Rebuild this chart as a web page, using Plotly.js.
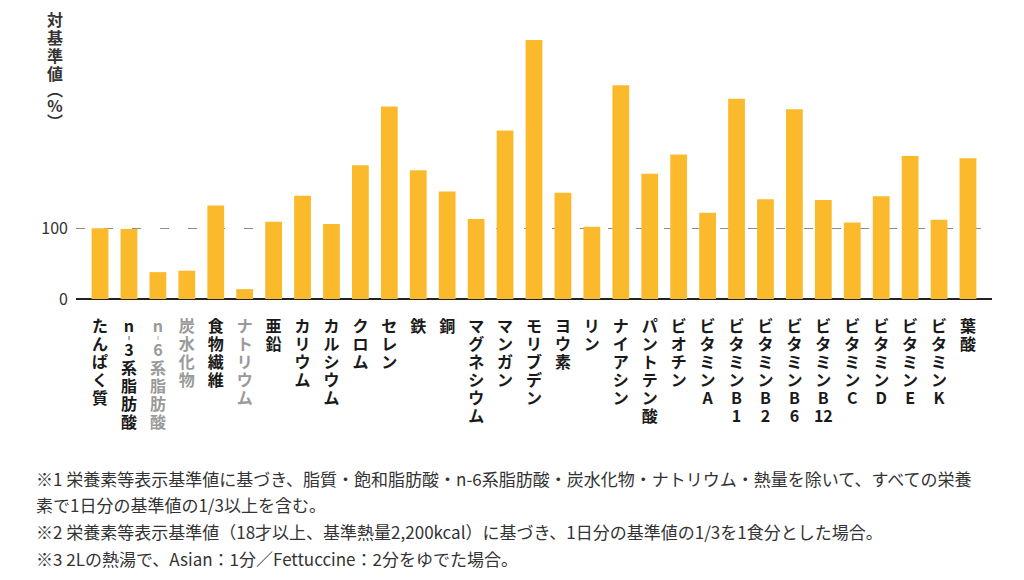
<!DOCTYPE html>
<html>
<head>
<meta charset="utf-8">
<script src="https://cdn.plot.ly/plotly-3.0.1.min.js"></script>
<style>
html,body{margin:0;padding:0;background:#fff;}
#chart{width:1024px;height:580px;}
</style>
</head>
<body>
<div id="chart"></div>
<script>
// ---- data ----
const categories = ["たんぱく質","n-3系脂肪酸","n-6系脂肪酸","炭水化物","食物繊維","ナトリウム","亜鉛","カリウム","カルシウム","クロム","セレン","鉄","銅","マグネシウム","マンガン","モリブデン","ヨウ素","リン","ナイアシン","パントテン酸","ビオチン","ビタミンA","ビタミンB1","ビタミンB2","ビタミンB6","ビタミンB12","ビタミンC","ビタミンD","ビタミンE","ビタミンK","葉酸"];
const values = [100, 99, 38, 40, 132, 14, 109, 146, 106, 189, 272, 182, 152, 113, 238, 366, 150, 102, 302, 177, 204, 122, 283, 141, 268, 140, 108, 145, 202, 112, 199];
const dimmed = ["n-6系脂肪酸","炭水化物","ナトリウム"];
const yTickVals = [0, 100];
const yTitle = "対基準値︵%︶";
const footnotes = [
  "※1 栄養素等表示基準値に基づき、脂質・飽和脂肪酸・n-6系脂肪酸・炭水化物・ナトリウム・熱量を除いて、すべての栄養",
  "素で1日分の基準値の1/3以上を含む。",
  "※2 栄養素等表示基準値（18才以上、基準熱量2,200kcal）に基づき、1日分の基準値の1/3を1食分とした場合。",
  "※3 2Lの熱湯で、Asian：1分／Fettuccine：2分をゆでた場合。"
];

// ---- helpers ----
function vertical(s){
  const parts = [];
  const chars = Array.from(s);
  for (let i=0;i<chars.length;i++){
    const c = chars[i];
    if (/[0-9]/.test(c) && i>0 && /[0-9]/.test(chars[i-1])) {
      parts[parts.length-1] += c;
    } else if (c === "-") {
      parts.push("︲");
    } else {
      parts.push(c);
    }
  }
  return parts.join("<br>");
}
const tickText = categories.map(c => {
  const t = vertical(c);
  return dimmed.includes(c) ? '<span style="color:#9a9a9a">'+t+'</span>' : t;
});

// pixel helpers for layout
const W = 1024, H = 580;
const mL = 76, mR = 32, mT = 30, mB = 281;
const plotW = W - mL - mR, plotH = H - mT - mB;
const px = x => (x - mL) / plotW;
const py = y => (H - mB - y) / plotH;

const FONT = '"Noto Sans CJK JP", "Noto Sans", sans-serif';
const TICK_SIZE = 16;
const TITLE_SIZE = 16;
const ROW = 18;

const trace = {
  type: 'bar',
  x: categories,
  y: values,
  marker: {color: '#FBBA2C'},
  hoverinfo: 'x+y'
};

const annotations = [];
annotations.push({
  xref:'paper', yref:'paper', x: px(55), y: py(5), xanchor:'center', yanchor:'top',
  text: '<b>' + vertical(yTitle) + '</b>', showarrow:false, align:'center',
  font:{family:FONT, size:TITLE_SIZE, color:'#333'}
});
const fnY = [478, 504, 531, 558];
footnotes.forEach((t,i) => {
  annotations.push({
    xref:'paper', yref:'paper', x: px(34), y: py(fnY[i]), xanchor:'left', yanchor:'middle',
    text: t, showarrow:false, align:'left',
    font:{family:FONT, size:17, color:'#333'}
  });
});

const layout = {
  width: W, height: H,
  margin: {l:mL, r:mR, t:mT, b:mB, pad:0},
  paper_bgcolor:'#fff', plot_bgcolor:'#fff',
  showlegend:false,
  bargap: 0.42,
  font:{family:FONT, color:'#222'},
  xaxis: {
    type:'category',
    range:[-0.83, 30.83],
    tickmode:'array',
    tickvals: categories,
    ticktext: tickText.map(t => '<b>' + t + '</b>'),
    tickangle: 0,
    ticks:'',
    showline:false,
    showgrid:false,
    zeroline:false,
    ticklabelstandoff: 16,
    tickfont:{family:FONT, size:TICK_SIZE, color:'#1a1a1a'},
    automargin:false
  },
  yaxis: {
    range:[0, 380],
    tickmode:'array',
    tickvals: yTickVals,
    ticks:'',
    showgrid:true,
    gridcolor:'#8c8c8c',
    griddash:'9px,19px',
    gridwidth:1,
    zeroline:true,
    zerolinecolor:'#222',
    zerolinewidth:2,
    showline:false,
    ticklabelstandoff: 7,
    tickfont:{family:FONT, size:16, color:'#333'},
    automargin:false
  },
  annotations: annotations
};

// stack rows of the vertical labels with a compact line pitch;
// small glyphs (vertical dash / vertical brackets) take a shorter step
const SHORT = ["︲","︵","︶"];
function restack(textEl, shortIn, shortOut){
  const lines = Array.from(textEl.querySelectorAll('tspan.line'));
  let off = 0;
  lines.forEach((sp, i) => {
    if (i > 0) {
      const prev = lines[i-1].textContent, cur = sp.textContent;
      let step = ROW;
      if (SHORT.includes(cur)) step = shortIn;
      else if (SHORT.includes(prev)) step = shortOut;
      off += step;
    }
    sp.setAttribute('dy', off + 'px');
  });
}
function tighten(){
  document.querySelectorAll('.xtick text').forEach(t => restack(t, 12, 12));
  const ann = document.querySelectorAll('.annotation-text');
  if (ann.length) restack(ann[0], 16, 16);
}

Plotly.newPlot('chart', [trace], layout, {displayModeBar:false, staticPlot:true}).then(tighten);
</script>
</body>
</html>
